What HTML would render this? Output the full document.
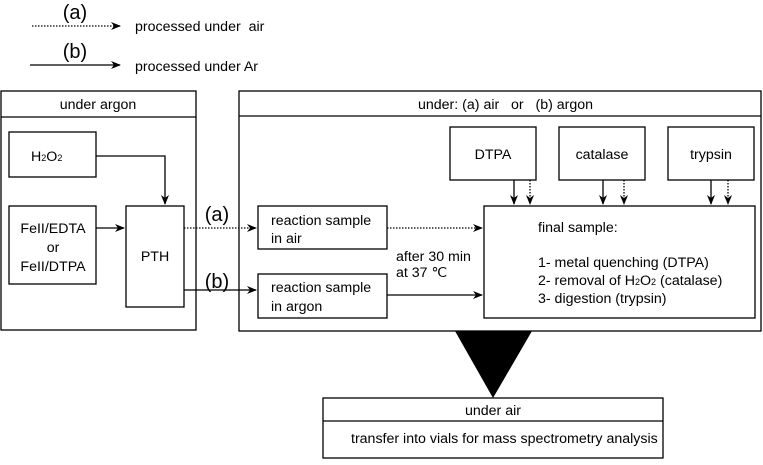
<!DOCTYPE html>
<html><head><style>
body{margin:0;background:#fff;}
svg text{font-family:"Liberation Sans",sans-serif;fill:#000;white-space:pre;}
</style></head><body>
<svg width="763" height="460" viewBox="0 0 763 460" xmlns="http://www.w3.org/2000/svg">
<defs>
<marker id="ah" markerWidth="10" markerHeight="8" refX="9" refY="4" orient="auto" markerUnits="userSpaceOnUse">
<path d="M0,0 L10,4 L0,8 L3,4 Z" fill="#000"/></marker>
</defs>
<g stroke="#000" fill="none" stroke-width="1.3">
<line x1="32" y1="26" x2="120" y2="26" stroke-dasharray="1.5,1.5" marker-end="url(#ah)"/>
<line x1="30" y1="65" x2="120" y2="65" marker-end="url(#ah)"/>
<rect x="1" y="91" width="195" height="239"/>
<line x1="1" y1="117" x2="196" y2="117"/>
<rect x="9" y="132" width="87" height="45"/>
<rect x="9" y="206" width="87" height="78"/>
<rect x="126" y="206" width="58" height="101"/>
<polyline points="96,156 165,156 165,204" marker-end="url(#ah)"/>
<line x1="96" y1="228" x2="124" y2="228" marker-end="url(#ah)"/>
<rect x="239" y="91" width="522" height="240"/>
<line x1="239" y1="116" x2="761" y2="116"/>
<rect x="258" y="206" width="129" height="43"/>
<rect x="258" y="274" width="129" height="44"/>
<rect x="450" y="127" width="86" height="53"/>
<rect x="559" y="127" width="86" height="53"/>
<rect x="668" y="127" width="86" height="53"/>
<rect x="484" y="206" width="271" height="112"/>
<line x1="184" y1="228" x2="256" y2="228" stroke-dasharray="1.5,1.5" marker-end="url(#ah)"/>
<line x1="184" y1="290" x2="256" y2="290" marker-end="url(#ah)"/>
<line x1="387" y1="228" x2="482" y2="228" stroke-dasharray="1.5,1.5" marker-end="url(#ah)"/>
<line x1="387" y1="295" x2="482" y2="295" marker-end="url(#ah)"/>
<line x1="514" y1="180" x2="514" y2="204" marker-end="url(#ah)"/>
<line x1="530" y1="180" x2="530" y2="204" stroke-dasharray="1.5,1.5" marker-end="url(#ah)"/>
<line x1="603" y1="180" x2="603" y2="204" marker-end="url(#ah)"/>
<line x1="624" y1="180" x2="624" y2="204" stroke-dasharray="1.5,1.5" marker-end="url(#ah)"/>
<line x1="711" y1="180" x2="711" y2="204" marker-end="url(#ah)"/>
<line x1="728" y1="180" x2="728" y2="204" stroke-dasharray="1.5,1.5" marker-end="url(#ah)"/>
<rect x="323" y="398" width="340" height="60"/>
<line x1="323" y1="421" x2="663" y2="421"/>
</g>
<polygon points="455,331 532,331 493,398" fill="#000"/>
<g font-size="14.2">
<text x="75" y="19" font-size="20" text-anchor="middle">(a)</text>
<text x="75" y="58" font-size="20" text-anchor="middle">(b)</text>
<text x="135" y="31">processed under  air</text>
<text x="135" y="71">processed under Ar</text>
<text x="98" y="109" text-anchor="middle">under argon</text>
<text x="418" y="109">under: (a) air   or   (b) argon</text>
<text x="31" y="161">H<tspan font-size="9">2</tspan>O<tspan font-size="9">2</tspan></text>
<text x="53" y="233" text-anchor="middle">FeII/EDTA</text>
<text x="53" y="252" text-anchor="middle">or</text>
<text x="53" y="271" text-anchor="middle">FeII/DTPA</text>
<text x="155" y="261" text-anchor="middle">PTH</text>
<text x="217" y="221" font-size="20" text-anchor="middle">(a)</text>
<text x="217" y="288" font-size="20" text-anchor="middle">(b)</text>
<text x="271" y="225">reaction sample</text>
<text x="271" y="243">in air</text>
<text x="271" y="292">reaction sample</text>
<text x="271" y="311">in argon</text>
<text x="396" y="261">after 30 min</text>
<text x="396" y="277">at 37 ℃</text>
<text x="493" y="159" text-anchor="middle">DTPA</text>
<text x="602" y="159" text-anchor="middle">catalase</text>
<text x="711" y="159" text-anchor="middle">trypsin</text>
<text x="538" y="232">final sample:</text>
<text x="538" y="267">1- metal quenching (DTPA)</text>
<text x="538" y="285">2- removal of H<tspan font-size="9">2</tspan>O<tspan font-size="9">2</tspan> (catalase)</text>
<text x="538" y="303">3- digestion (trypsin)</text>
<text x="493" y="415" text-anchor="middle">under air</text>
<text x="351" y="443">transfer into vials for mass spectrometry analysis</text>
</g>
</svg>
</body></html>
